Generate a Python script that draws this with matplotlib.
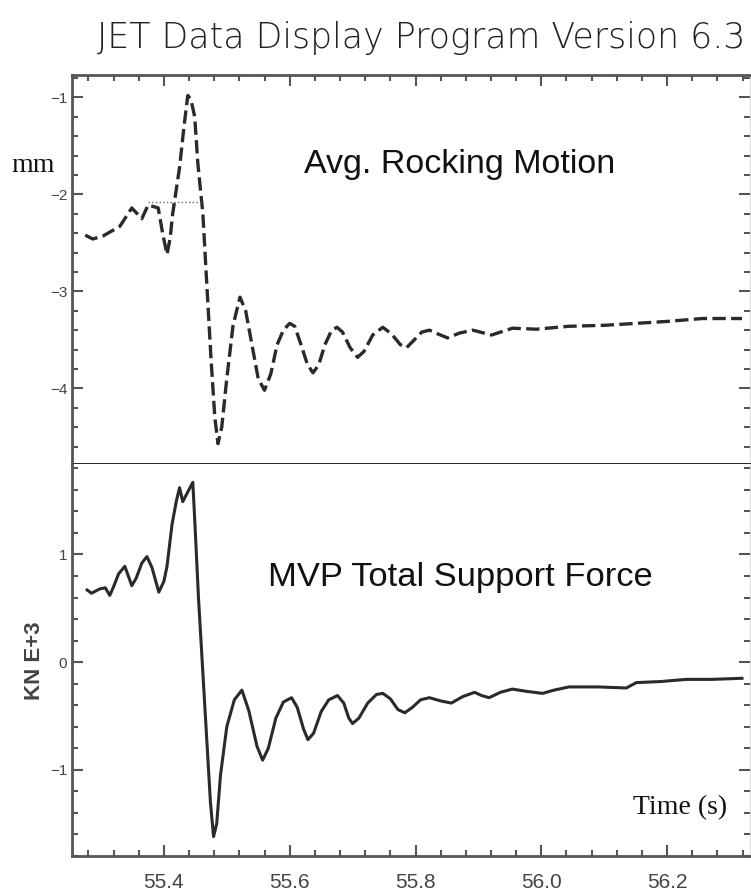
import matplotlib
matplotlib.use("Agg")
import matplotlib.pyplot as plt
from matplotlib.ticker import MultipleLocator

# Avg. rocking motion (mm)
rock_t = [55.275, 55.287, 55.303, 55.330, 55.349, 55.365, 55.375, 55.391, 55.398, 55.405,
          55.410, 55.414, 55.425, 55.432, 55.438, 55.443, 55.449, 55.454, 55.462, 55.468,
          55.475, 55.481, 55.486, 55.492, 55.500, 55.510, 55.521, 55.530, 55.540, 55.550,
          55.560, 55.570, 55.580, 55.590, 55.600, 55.608, 55.618, 55.628, 55.637, 55.646,
          55.656, 55.666, 55.675, 55.684, 55.696, 55.708, 55.718, 55.732, 55.748, 55.762,
          55.776, 55.786, 55.798, 55.810, 55.822, 55.836, 55.851, 55.870, 55.891, 55.921,
          55.954, 55.992, 56.044, 56.100, 56.151, 56.200, 56.256, 56.319]
rock_mm = [-2.42, -2.46, -2.43, -2.33, -2.14, -2.25, -2.11, -2.14, -2.40, -2.62,
           -2.45, -2.20, -1.72, -1.30, -0.98, -1.02, -1.20, -1.68, -2.20, -2.90,
           -3.70, -4.30, -4.57, -4.40, -3.90, -3.35, -3.06, -3.20, -3.55, -3.90,
           -4.02, -3.85, -3.55, -3.40, -3.33, -3.36, -3.55, -3.75, -3.84, -3.76,
           -3.55, -3.41, -3.37, -3.42, -3.58, -3.68, -3.62, -3.45, -3.37, -3.44,
           -3.55, -3.58, -3.50, -3.42, -3.40, -3.44, -3.48, -3.43, -3.40, -3.45,
           -3.38, -3.39, -3.36, -3.35, -3.33, -3.31, -3.28, -3.28]

# short flat segment drawn across the first peak
flat_t = [55.375, 55.462]
flat_mm = [-2.08, -2.08]

# MVP total support force (kN E+3), solid trace
force_t = [55.278, 55.285, 55.298, 55.307, 55.314, 55.320, 55.328, 55.338, 55.349, 55.356,
           55.365, 55.373, 55.381, 55.392, 55.400, 55.405, 55.413, 55.420, 55.425, 55.430,
           55.438, 55.446, 55.449, 55.455, 55.462, 55.468, 55.474, 55.479, 55.484, 55.490,
           55.500, 55.512, 55.524, 55.535, 55.548, 55.557, 55.566, 55.578, 55.590, 55.603,
           55.612, 55.622, 55.629, 55.638, 55.650, 55.662, 55.676, 55.686, 55.694, 55.700,
           55.710, 55.724, 55.738, 55.748, 55.760, 55.772, 55.783, 55.795, 55.808, 55.822,
           55.840, 55.857, 55.875, 55.894, 55.905, 55.917, 55.935, 55.954, 55.975, 56.002,
           56.020, 56.044, 56.090, 56.135, 56.151, 56.190, 56.230, 56.270, 56.319]
force_kn = [0.67, 0.64, 0.68, 0.69, 0.62, 0.70, 0.82, 0.89, 0.71, 0.78,
            0.92, 0.98, 0.88, 0.65, 0.75, 0.89, 1.28, 1.50, 1.62, 1.49,
            1.58, 1.67, 1.33, 0.60, -0.10, -0.70, -1.30, -1.62, -1.50, -1.05,
            -0.60, -0.35, -0.26, -0.45, -0.78, -0.91, -0.80, -0.52, -0.37, -0.33,
            -0.42, -0.62, -0.72, -0.66, -0.46, -0.35, -0.31, -0.38, -0.52, -0.57,
            -0.52, -0.38, -0.30, -0.29, -0.34, -0.44, -0.47, -0.42, -0.35, -0.33,
            -0.36, -0.38, -0.32, -0.28, -0.31, -0.33, -0.28, -0.25, -0.27, -0.29,
            -0.26, -0.23, -0.23, -0.24, -0.19, -0.18, -0.16, -0.16, -0.15]

x_ticks = [55.4, 55.6, 55.8, 56.0, 56.2]
rock_ticks = [-1, -2, -3, -4]
force_ticks = [1, 0, -1]

fig = plt.figure(figsize=(7.51, 8.94), dpi=100)
ax1 = fig.add_axes([0.0959, 0.481, 0.903, 0.435])
ax2 = fig.add_axes([0.0959, 0.0425, 0.903, 0.4385])

ink = "#2a2a2a"
for ax in (ax1, ax2):
    ax.set_xlim(55.254, 56.332)
    ax.xaxis.set_minor_locator(MultipleLocator(0.04))
    ax.yaxis.set_minor_locator(MultipleLocator(0.2))
    ax.set_xticks(x_ticks)
    ax.tick_params(which="both", direction="in", color="#555555", width=1.5,
                   top=True, right=True, labelsize=11, labelcolor="#444444")
    ax.tick_params(which="major", length=8)
    ax.tick_params(which="minor", length=4)
    for side in ("left", "top", "bottom"):
        ax.spines[side].set_linewidth(2)
        ax.spines[side].set_color("#555555")
    ax.spines["right"].set_color("#dddddd")
    for lab in ax.get_yticklabels() + ax.get_xticklabels():
        lab.set_family("Liberation Sans")

ax1.plot(rock_t, rock_mm, color=ink, lw=2.4, ls=(0, (4, 1.6)))
ax1.plot(flat_t, flat_mm, color="#666666", lw=1, ls=":")
ax1.set_ylim(-4.78, -0.77)
ax1.set_yticks(rock_ticks)
ax1.set_yticklabels(["\u22121", "\u22122", "\u22123", "\u22124"])
ax1.tick_params(axis="x", labelbottom=False, bottom=False, which="both")
ax1.spines["bottom"].set_color("#111111")
ax1.text(0.572, 0.77, "Avg. Rocking Motion", transform=ax1.transAxes,
         ha="center", va="center", fontsize=24.5, family="Liberation Sans", color="#111111")

ax2.plot(force_t, force_kn, color=ink, lw=2.2)
ax2.set_ylim(-1.80, 1.84)
ax2.set_yticks(force_ticks)
ax2.set_yticklabels(["1", "0", "\u22121"])
ax2.tick_params(axis="x", top=False, which="both", labelsize=15, pad=12)
ax2.spines["top"].set_visible(False)
ax2.text(0.572, 0.711, "MVP Total Support Force", transform=ax2.transAxes,
         ha="center", va="center", fontsize=24.8, family="Liberation Sans", color="#111111")
ax2.text(0.897, 0.123, "Time (s)", transform=ax2.transAxes,
         ha="center", va="center", fontsize=20, family="Liberation Serif", color="#111111")

fig.text(0.0446, 0.815, "mm", ha="center", va="center", fontsize=20,
         family="Liberation Serif", color="#111111")
fig.text(0.0466, 0.2606, "KN E+3", ha="center", va="center", rotation=90, fontsize=16,
         weight="bold", family="Liberation Sans", color="#444444")
fig.text(0.561, 0.958, "JET Data Display Program Version 6.3", ha="center", va="center",
         fontsize=25, family="DejaVu Sans", weight="light", color="#222222")

plt.savefig("out.png", dpi=100)
